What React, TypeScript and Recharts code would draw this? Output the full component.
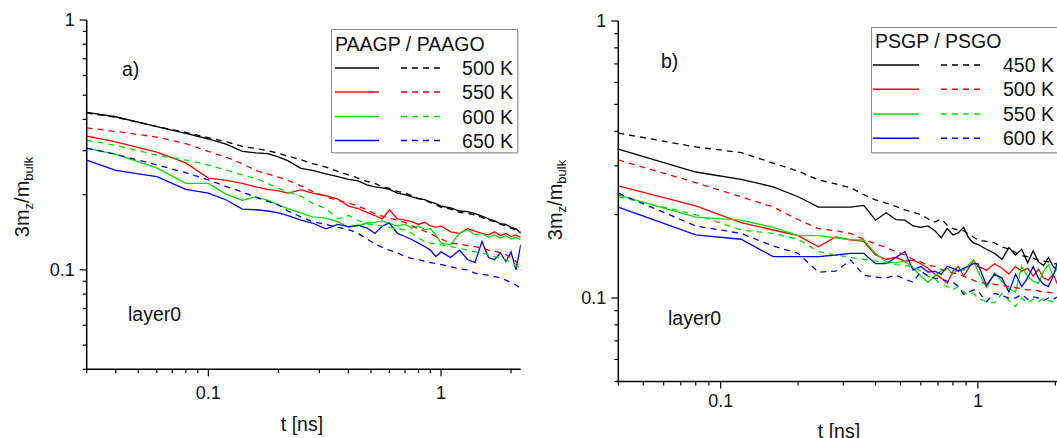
import React from "react";
import { LineChart, Line, XAxis, YAxis, Legend } from "recharts";

const FONT = '"Liberation Sans", Arial, sans-serif';

// ---- panel a) PAAGP (solid) / PAAGO (dashed) ----
const tA = [0.03, 0.04, 0.06, 0.08, 0.1, 0.12, 0.14, 0.16, 0.18, 0.2, 0.22, 0.25, 0.28, 0.32, 0.36, 0.4, 0.44, 0.48, 0.52, 0.56, 0.6, 0.65, 0.7, 0.75, 0.8, 0.85, 0.9, 0.95, 1.0, 1.1, 1.2, 1.3, 1.4, 1.5, 1.6, 1.7, 1.8, 1.9, 2.0, 2.1, 2.2];
const tempsA = ["500 K", "550 K", "600 K", "650 K"];
const gpA500 = [0.427, 0.41, 0.374, 0.352, 0.334, 0.318, 0.298, 0.294, 0.292, 0.283, 0.273, 0.255, 0.25, 0.242, 0.236, 0.23, 0.227, 0.219, 0.215, 0.213, 0.21, 0.203, 0.2, 0.196, 0.193, 0.191, 0.187, 0.184, 0.18, 0.177, 0.172, 0.171, 0.168, 0.164, 0.16, 0.157, 0.153, 0.152, 0.148, 0.146, 0.14];
const gpA550 = [0.343, 0.325, 0.296, 0.268, 0.233, 0.228, 0.222, 0.215, 0.21, 0.207, 0.203, 0.209, 0.203, 0.198, 0.192, 0.18, 0.176, 0.17, 0.165, 0.16, 0.174, 0.16, 0.158, 0.156, 0.152, 0.155, 0.15, 0.148, 0.15, 0.142, 0.14, 0.146, 0.143, 0.14, 0.138, 0.142, 0.137, 0.14, 0.136, 0.138, 0.135];
const gpA600 = [0.307, 0.29, 0.256, 0.222, 0.222, 0.2, 0.19, 0.196, 0.19, 0.182, 0.176, 0.169, 0.163, 0.161, 0.156, 0.148, 0.15, 0.154, 0.155, 0.157, 0.153, 0.15, 0.152, 0.147, 0.15, 0.145, 0.146, 0.138, 0.128, 0.126, 0.14, 0.145, 0.138, 0.14, 0.135, 0.138, 0.134, 0.137, 0.133, 0.135, 0.132];
const gpA650 = [0.275, 0.25, 0.236, 0.21, 0.203, 0.19, 0.175, 0.174, 0.172, 0.169, 0.165, 0.158, 0.154, 0.146, 0.152, 0.149, 0.151, 0.147, 0.14, 0.15, 0.154, 0.14, 0.136, 0.132, 0.128, 0.124, 0.12, 0.113, 0.118, 0.112, 0.12, 0.11, 0.107, 0.13, 0.112, 0.11, 0.117, 0.108, 0.118, 0.1, 0.126];
const goA500 = [0.425, 0.408, 0.375, 0.355, 0.338, 0.325, 0.312, 0.306, 0.3, 0.293, 0.285, 0.276, 0.266, 0.258, 0.248, 0.24, 0.233, 0.226, 0.222, 0.215, 0.212, 0.206, 0.203, 0.198, 0.193, 0.19, 0.186, 0.182, 0.178, 0.175, 0.17, 0.168, 0.166, 0.162, 0.158, 0.156, 0.152, 0.15, 0.147, 0.144, 0.142];
const goA550 = [0.37, 0.358, 0.34, 0.32, 0.298, 0.282, 0.266, 0.25, 0.242, 0.235, 0.228, 0.217, 0.206, 0.196, 0.19, 0.185, 0.18, 0.174, 0.168, 0.164, 0.161, 0.158, 0.155, 0.15, 0.146, 0.143, 0.14, 0.136, 0.133, 0.128, 0.127, 0.125, 0.124, 0.122, 0.12, 0.119, 0.117, 0.115, 0.112, 0.108, 0.1];
const goA600 = [0.33, 0.315, 0.288, 0.275, 0.263, 0.25, 0.24, 0.232, 0.222, 0.212, 0.205, 0.197, 0.185, 0.176, 0.16, 0.165, 0.158, 0.153, 0.151, 0.15, 0.148, 0.146, 0.145, 0.14, 0.134, 0.13, 0.128, 0.127, 0.126, 0.124, 0.122, 0.12, 0.118, 0.117, 0.115, 0.113, 0.112, 0.11, 0.107, 0.104, 0.102];
const goA650 = [0.307, 0.29, 0.263, 0.245, 0.229, 0.215, 0.205, 0.195, 0.188, 0.182, 0.172, 0.163, 0.156, 0.152, 0.148, 0.145, 0.14, 0.133, 0.127, 0.123, 0.12, 0.117, 0.113, 0.111, 0.11, 0.108, 0.107, 0.106, 0.105, 0.103, 0.101, 0.1, 0.097, 0.096, 0.095, 0.094, 0.093, 0.091, 0.089, 0.087, 0.084];

// ---- panel b) PSGP (solid) / PSGO (dashed) ----
const tB = [0.04, 0.08, 0.12, 0.16, 0.2, 0.24, 0.28, 0.32, 0.36, 0.4, 0.44, 0.48, 0.52, 0.56, 0.6, 0.64, 0.68, 0.72, 0.76, 0.8, 0.84, 0.88, 0.92, 0.96, 1.0, 1.08, 1.16, 1.24, 1.32, 1.4, 1.48, 1.56, 1.64, 1.72, 1.8, 1.88, 1.96, 2.04, 2.12, 2.2];
const tempsB = ["450 K", "500 K", "550 K", "600 K"];
const gpB450 = [0.345, 0.285, 0.268, 0.252, 0.232, 0.213, 0.213, 0.213, 0.216, 0.191, 0.203, 0.192, 0.191, 0.182, 0.18, 0.182, 0.175, 0.165, 0.178, 0.169, 0.172, 0.18, 0.165, 0.158, 0.156, 0.15, 0.145, 0.138, 0.152, 0.143, 0.15, 0.134, 0.148, 0.135, 0.131, 0.14, 0.13, 0.126, 0.13, 0.125];
const gpB500 = [0.254, 0.215, 0.187, 0.176, 0.168, 0.153, 0.166, 0.162, 0.16, 0.143, 0.138, 0.14, 0.136, 0.137, 0.133, 0.128, 0.122, 0.118, 0.113, 0.125, 0.13, 0.12, 0.128, 0.137, 0.13, 0.126, 0.133, 0.128, 0.122, 0.13, 0.125, 0.128, 0.12, 0.127, 0.118, 0.116, 0.122, 0.112, 0.118, 0.11];
const gpB550 = [0.235, 0.196, 0.191, 0.18, 0.168, 0.168, 0.165, 0.162, 0.162, 0.145, 0.135, 0.134, 0.136, 0.128, 0.12, 0.114, 0.12, 0.125, 0.128, 0.122, 0.127, 0.126, 0.132, 0.137, 0.125, 0.109, 0.123, 0.115, 0.108, 0.105, 0.13, 0.12, 0.115, 0.113, 0.125, 0.132, 0.12, 0.13, 0.118, 0.125];
const gpB600 = [0.213, 0.169, 0.163, 0.141, 0.141, 0.141, 0.143, 0.145, 0.145, 0.133, 0.133, 0.14, 0.147, 0.126, 0.13, 0.124, 0.125, 0.122, 0.13, 0.128, 0.125, 0.128, 0.13, 0.133, 0.133, 0.111, 0.122, 0.118, 0.105, 0.122, 0.11, 0.118, 0.13, 0.118, 0.112, 0.11, 0.12, 0.135, 0.125, 0.13];
const goB450 = [0.394, 0.351, 0.335, 0.307, 0.287, 0.267, 0.258, 0.25, 0.236, 0.226, 0.22, 0.214, 0.208, 0.204, 0.2, 0.193, 0.188, 0.193, 0.183, 0.178, 0.176, 0.175, 0.17, 0.166, 0.162, 0.16, 0.158, 0.153, 0.15, 0.146, 0.142, 0.141, 0.139, 0.137, 0.136, 0.135, 0.134, 0.132, 0.131, 0.13];
const goB500 = [0.315, 0.261, 0.232, 0.213, 0.192, 0.178, 0.175, 0.171, 0.163, 0.157, 0.152, 0.147, 0.143, 0.138, 0.135, 0.131, 0.13, 0.127, 0.125, 0.123, 0.122, 0.12, 0.118, 0.116, 0.114, 0.113, 0.112, 0.111, 0.11, 0.109, 0.108, 0.107, 0.107, 0.106, 0.105, 0.105, 0.104, 0.104, 0.103, 0.103];
const goB550 = [0.232, 0.2, 0.176, 0.171, 0.163, 0.147, 0.143, 0.14, 0.138, 0.136, 0.134, 0.132, 0.131, 0.13, 0.125, 0.12, 0.117, 0.112, 0.11, 0.107, 0.11, 0.105, 0.103, 0.104, 0.1, 0.097, 0.096, 0.104, 0.098, 0.093, 0.1, 0.096, 0.099, 0.097, 0.1, 0.098, 0.097, 0.1, 0.096, 0.098];
const goB600 = [0.239, 0.182, 0.171, 0.154, 0.145, 0.124, 0.125, 0.137, 0.121, 0.119, 0.118, 0.121, 0.117, 0.114, 0.125, 0.12, 0.118, 0.117, 0.115, 0.114, 0.11, 0.103, 0.105, 0.107, 0.106, 0.097, 0.104, 0.102, 0.1, 0.1, 0.103, 0.099, 0.101, 0.1, 0.098, 0.1, 0.099, 0.101, 0.1, 0.1];

// tick values (log axes)
const xTicksA = [0.03, 0.04, 0.05, 0.06, 0.07, 0.08, 0.09, 0.1, 0.2, 0.3, 0.4, 0.5, 0.6, 0.7, 0.8, 0.9, 1, 2];
const yTicksA = [0.04, 0.05, 0.06, 0.07, 0.08, 0.09, 0.1, 0.2, 0.3, 0.4, 0.5, 0.6, 0.7, 0.8, 0.9, 1];
const xTicksB = [0.04, 0.05, 0.06, 0.07, 0.08, 0.09, 0.1, 0.2, 0.3, 0.4, 0.5, 0.6, 0.7, 0.8, 0.9, 1, 2];
const yTicksB = [0.05, 0.06, 0.07, 0.08, 0.09, 0.1, 0.2, 0.3, 0.4, 0.5, 0.6, 0.7, 0.8, 0.9, 1];
const majorLabels: Record<string, string> = { "0.1": "0.1", "1": "1" };

const colors = ["#000000", "#ff0000", "#00e000", "#0000ff"];

function makeRows(ts: number[], solid: number[][], dashed: number[][]) {
  return ts.map((t, i) => {
    const row: any = { t };
    solid.forEach((s, k) => (row["s" + k] = s[i]));
    dashed.forEach((d, k) => (row["d" + k] = d[i]));
    return row;
  });
}

const rowsA = makeRows(tA, [gpA500, gpA550, gpA600, gpA650], [goA500, goA550, goA600, goA650]);
const rowsB = makeRows(tB, [gpB450, gpB500, gpB550, gpB600], [goB450, goB500, goB550, goB600]);

const tickFont = { fontFamily: FONT, fontSize: 18, fill: "#111" };

const bottomTick = (labelDy: number) => (p: any) => {
  const v = String(p.payload.value);
  const lab = majorLabels[v];
  return (
    <g>
      <line x1={p.x} x2={p.x} y1={p.y} y2={p.y + (lab ? 7 : 4)} stroke="#000" strokeWidth={1.2} />
      {lab && (
        <text x={p.x} y={p.y + labelDy} textAnchor="middle" {...tickFont}>
          {lab}
        </text>
      )}
    </g>
  );
};

const leftTick = (p: any) => {
  const v = String(p.payload.value);
  const lab = majorLabels[v];
  return (
    <g>
      <line x1={p.x} x2={p.x - (lab ? 7 : 4)} y1={p.y} y2={p.y} stroke="#000" strokeWidth={1.2} />
      {lab && (
        <text x={p.x - 12} y={p.y + 6} textAnchor="end" {...tickFont}>
          {lab}
        </text>
      )}
    </g>
  );
};

const topTick = (p: any) => {
  const lab = majorLabels[String(p.payload.value)];
  return <line x1={p.x} x2={p.x} y1={p.y} y2={p.y + (lab ? 6 : 4)} stroke="#000" strokeWidth={1.2} />;
};

const rightTick = (p: any) => {
  const lab = majorLabels[String(p.payload.value)];
  return <line x1={p.x} x2={p.x - (lab ? 6 : 4)} y1={p.y} y2={p.y} stroke="#000" strokeWidth={1.2} />;
};

function LegendBox({ title, temps, w, h, titleY, rowY, solidX, dashX, labelX, anchor }: any) {
  return (
    <svg width={w} height={h} style={{ display: "block" }}>
      <rect x={0.5} y={0.5} width={w - 2} height={h - 2} fill="#fff" stroke="#8c8c8c" strokeWidth={1} />
      <line x1={1.5} x2={w - 1} y1={h - 0.8} y2={h - 0.8} stroke="#c8c8c8" strokeWidth={1.5} />
      <line x1={w - 0.8} x2={w - 0.8} y1={1.5} y2={h - 1} stroke="#c8c8c8" strokeWidth={1.5} />
      <text x={4} y={titleY} fontFamily={FONT} fontSize={19.5} fill="#111">
        {title}
      </text>
      {temps.map((lab: string, i: number) => (
        <g key={lab}>
          <line x1={solidX[0]} x2={solidX[1]} y1={rowY[i]} y2={rowY[i]} stroke={colors[i]} strokeWidth={1.4} />
          <line x1={dashX[0]} x2={dashX[1]} y1={rowY[i]} y2={rowY[i]} stroke={colors[i]} strokeWidth={1.4} strokeDasharray="6 5" />
          <text x={labelX} y={rowY[i] + 7} textAnchor={anchor} fontFamily={FONT} fontSize={19.5} fill="#111">
            {lab}
          </text>
        </g>
      ))}
    </svg>
  );
}

function Panel({ rows, width, margin, xDomain, yDomain, xTicks, yTicks, xLabelDy, legend }: any) {
  const axisLine = { stroke: "#000", strokeWidth: 1.5 };
  return (
    <LineChart width={width} height={438} data={rows} margin={margin}>
      <XAxis
        dataKey="t"
        type="number"
        scale="log"
        domain={xDomain}
        allowDataOverflow
        ticks={xTicks}
        interval={0}
        height={40}
        tickSize={0}
        tickMargin={0}
        tickLine={false}
        axisLine={axisLine}
        tick={bottomTick(xLabelDy)}
      />
      <XAxis
        xAxisId="top"
        orientation="top"
        dataKey="t"
        type="number"
        scale="log"
        domain={xDomain}
        allowDataOverflow
        ticks={xTicks}
        interval={0}
        height={0}
        tickSize={0}
        tickMargin={0}
        tickLine={false}
        axisLine={axisLine}
        tick={topTick}
      />
      <YAxis
        type="number"
        scale="log"
        domain={yDomain}
        allowDataOverflow
        ticks={yTicks}
        interval={0}
        width={60}
        tickSize={0}
        tickMargin={0}
        tickLine={false}
        axisLine={axisLine}
        tick={leftTick}
      />
      <YAxis
        yAxisId="right"
        orientation="right"
        type="number"
        scale="log"
        domain={yDomain}
        allowDataOverflow
        ticks={yTicks}
        interval={0}
        width={0}
        tickSize={0}
        tickMargin={0}
        tickLine={false}
        axisLine={axisLine}
        tick={rightTick}
      />
      <Legend
        layout="vertical"
        align="center"
        verticalAlign="middle"
        wrapperStyle={{ left: legend.left, top: legend.top, width: legend.w, height: legend.h }}
        content={() => <LegendBox {...legend} />}
      />
      {[0, 1, 2, 3].map((k) => (
        <Line
          key={"s" + k}
          dataKey={"s" + k}
          type="linear"
          stroke={colors[k]}
          strokeWidth={1.3}
          dot={false}
          isAnimationActive={false}
        />
      ))}
      {[0, 1, 2, 3].map((k) => (
        <Line
          key={"d" + k}
          dataKey={"d" + k}
          type="linear"
          stroke={colors[k]}
          strokeWidth={1.3}
          strokeDasharray="6 5"
          dot={false}
          isAnimationActive={false}
        />
      ))}
    </LineChart>
  );
}

function YLabel({ x, y }: { x: number; y: number }) {
  return (
    <text transform={`translate(${x},${y}) rotate(-90)`} textAnchor="middle" fontFamily={FONT} fontSize={20} fill="#111">
      3m
      <tspan dy={4} fontSize={13}>z</tspan>
      <tspan dy={-4}>/m</tspan>
      <tspan dy={4} fontSize={13}>bulk</tspan>
    </text>
  );
}

export default function App() {
  const txt = { fontFamily: FONT, fontSize: 19.5, fill: "#111" };
  return (
    <div style={{ position: "absolute", left: 0, top: 0, width: 1057, height: 438, overflow: "hidden", background: "#fff" }}>
      <div style={{ position: "absolute", left: 0, top: 0 }}>
        <Panel
          rows={rowsA}
          width={530}
          margin={{ top: 20, right: 9.3, left: 26.7, bottom: 28.7 }}
          xDomain={[0.03, 2.2]}
          yDomain={[0.04, 1]}
          xTicks={xTicksA}
          yTicks={yTicksA}
          xLabelDy={30}
          legend={{
            title: "PAAGP / PAAGO",
            temps: tempsA,
            left: 331,
            top: 29,
            w: 188,
            h: 125,
            titleY: 22,
            rowY: [39, 63, 87.5, 111.5],
            solidX: [4, 48],
            dashX: [70, 112],
            labelX: 182,
            anchor: "end",
          }}
        />
      </div>
      <div style={{ position: "absolute", left: 530, top: 0 }}>
        <Panel
          rows={rowsB}
          width={560}
          margin={{ top: 21, right: 24, left: 28.3, bottom: 16.6 }}
          xDomain={[0.04, 2.2]}
          yDomain={[0.05, 1]}
          xTicks={xTicksB}
          yTicks={yTicksB}
          xLabelDy={26}
          legend={{
            title: "PSGP / PSGO",
            temps: tempsB,
            left: 341,
            top: 27,
            w: 210,
            h: 127,
            titleY: 21,
            rowY: [38, 62.3, 87, 111.3],
            solidX: [2, 48],
            dashX: [70, 114],
            labelX: 132,
            anchor: "start",
          }}
        />
      </div>
      <svg width={1057} height={438} style={{ position: "absolute", left: 0, top: 0, pointerEvents: "none" }}>
        <YLabel x={29} y={197} />
        <text x={122} y={76} {...txt}>a)</text>
        <text x={128} y={321} {...txt}>layer0</text>
        <text x={302} y={431} textAnchor="middle" {...txt}>t [ns]</text>
        <YLabel x={562} y={200} />
        <text x={661} y={67.5} {...txt}>b)</text>
        <text x={668} y={324.5} {...txt}>layer0</text>
        <text x={839} y={438} textAnchor="middle" {...txt}>t [ns]</text>
      </svg>
    </div>
  );
}
